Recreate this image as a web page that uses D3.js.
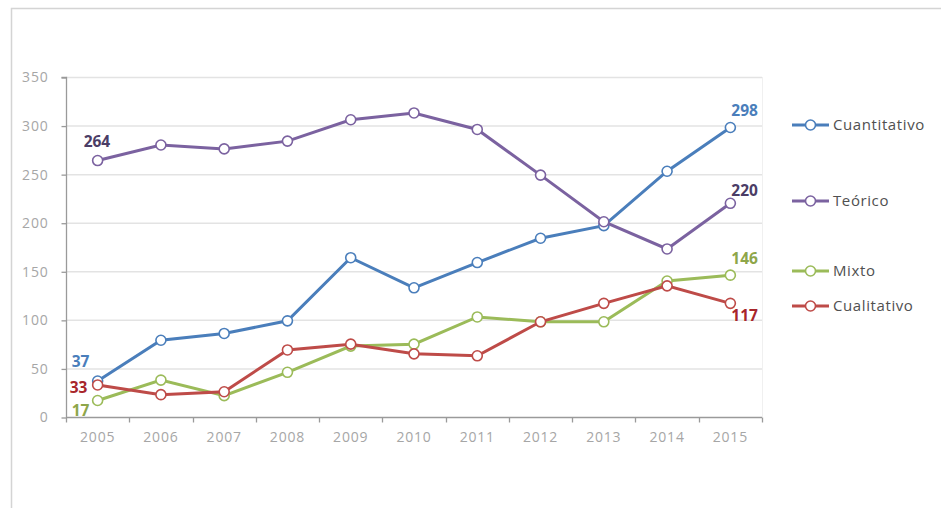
<!DOCTYPE html>
<html>
<head>
<meta charset="utf-8">
<script src="https://cdn.jsdelivr.net/npm/d3@7"></script>
<style>
body { margin: 0; background: #fff; }
svg { display: block; font-family: "Open Sans", "Noto Sans", sans-serif; }
</style>
</head>
<body>
<svg id="chart" width="941" height="508"></svg>
<script>
var years = ["2005", "2006", "2007", "2008", "2009", "2010", "2011", "2012", "2013", "2014", "2015"];
var yTicks = [0, 50, 100, 150, 200, 250, 300, 350];

var cuantitativo = [37, 79, 86, 99, 164, 133, 159, 184, 197, 253, 298];
var teorico = [264, 280, 276, 284, 306, 313, 296, 249, 201, 173, 220];
var mixto = [17, 38, 22, 46, 73, 75, 103, 98, 98, 140, 146];
var cualitativo = [33, 23, 26, 69, 75, 65, 63, 98, 117, 135, 117];

var series = [
    {name: "Cuantitativo", values: cuantitativo, color: "#4a7ebb", labelColor: "#4a7ebb"},
    {name: "Teórico", values: teorico, color: "#7b62a0", labelColor: "#4b3d66"},
    {name: "Mixto", values: mixto, color: "#9bbb59", labelColor: "#8ea64a"},
    {name: "Cualitativo", values: cualitativo, color: "#be4b48", labelColor: "#a8262b"}
];

// end labels: [series index, point index, dx, dy]
var labels = [
    [0, 0, -26, -14], [2, 0, -26, 16], [3, 0, -28, 8], [1, 0, -14, -14],
    [0, 10, 1, -12], [1, 10, 1, -7], [2, 10, 1, -11], [3, 10, 1, 18]
];

var svg = d3.select("#chart");
var plotLeft = 66, plotRight = 762, plotTop = 77, plotBottom = 417;

// outer frame
svg.append("path")
    .attr("d", "M11.5,508 V8.5 H941")
    .attr("fill", "none")
    .attr("stroke", "#d4d4d4")
    .attr("stroke-width", 1.5);

var x = d3.scaleBand().domain(years).range([plotLeft, plotRight]);
var y = d3.scaleLinear().domain([0, 350]).range([plotBottom, plotTop]);

// gridlines
svg.append("g").selectAll("line")
    .data(yTicks.filter(d => d > 0))
    .enter().append("line")
    .attr("x1", plotLeft).attr("x2", plotRight)
    .attr("y1", d => y(d) + 0.5).attr("y2", d => y(d) + 0.5)
    .attr("stroke", "#e3e3e3")
    .attr("stroke-width", 1.5);

svg.append("line")
    .attr("x1", plotRight + 0.5).attr("x2", plotRight + 0.5)
    .attr("y1", plotTop).attr("y2", plotBottom)
    .attr("stroke", "#f0f0f0");

// y axis
var yAxis = svg.append("g")
    .attr("transform", "translate(" + (plotLeft + 0.5) + ",0.5)")
    .call(d3.axisLeft(y).tickValues(yTicks).tickSize(5).tickPadding(13));
yAxis.selectAll("text").attr("fill", "#a6a6a6").style("font-size", "14px")
    .style("letter-spacing", "0.8px").style("font-family", "'Open Sans', sans-serif");
yAxis.selectAll("line, path").attr("stroke", "#9a9a9a").attr("stroke-width", 1.3);
yAxis.select(".domain").attr("d", "M-5," + plotTop + "H0V" + plotBottom);

// x axis
var xAxis = svg.append("g")
    .attr("transform", "translate(0," + (plotBottom + 0.5) + ")")
    .call(d3.axisBottom(x).tickSize(0).tickPadding(15));
xAxis.selectAll("text").attr("fill", "#a6a6a6").style("font-size", "14px")
    .style("letter-spacing", "0.8px").style("font-family", "'Open Sans', sans-serif");
xAxis.select(".domain").attr("d", "M" + plotLeft + ",0H" + plotRight).attr("stroke", "#9a9a9a").attr("stroke-width", 1.3);
xAxis.selectAll(".sep")
    .data(d3.range(years.length + 1))
    .enter().append("line")
    .attr("class", "sep")
    .attr("x1", i => Math.round(plotLeft + i * x.step()) + 0.5)
    .attr("x2", i => Math.round(plotLeft + i * x.step()) + 0.5)
    .attr("y1", 0).attr("y2", 5)
    .attr("stroke", "#9a9a9a").attr("stroke-width", 1.3);

var line = d3.line()
    .x((d, i) => x(years[i]) + x.bandwidth() / 2)
    .y(d => y(d));

series.forEach(function(s) {
    var g = svg.append("g");
    g.append("path")
        .attr("d", line(s.values))
        .attr("fill", "none")
        .attr("stroke", s.color)
        .attr("stroke-width", 3);
    g.selectAll("circle")
        .data(s.values)
        .enter().append("circle")
        .attr("cx", (d, i) => x(years[i]) + x.bandwidth() / 2)
        .attr("cy", d => y(d))
        .attr("r", 5)
        .attr("fill", "#fff")
        .attr("stroke", s.color)
        .attr("stroke-width", 1.6);
});

// value labels
svg.append("g").selectAll("text")
    .data(labels)
    .enter().append("text")
    .attr("x", d => x(years[d[1]]) + x.bandwidth() / 2 + d[2])
    .attr("y", d => y(series[d[0]].values[d[1]]) + d[3])
    .attr("fill", d => series[d[0]].labelColor)
    .style("font-size", "15.5px")
    .style("font-weight", "bold")
    .text(d => series[d[0]].values[d[1]]);

// legend
var legendY = [125, 201, 271, 306];
var legend = svg.append("g").selectAll("g")
    .data(series)
    .enter().append("g")
    .attr("transform", (d, i) => "translate(792," + legendY[i] + ")");
legend.append("line")
    .attr("x1", 0).attr("x2", 37)
    .attr("stroke", d => d.color)
    .attr("stroke-width", 3);
legend.append("circle")
    .attr("cx", 18.5).attr("r", 5)
    .attr("fill", "#fff")
    .attr("stroke", d => d.color)
    .attr("stroke-width", 1.6);
legend.append("text")
    .attr("x", 41).attr("y", 5)
    .attr("fill", "#505050")
    .style("font-size", "15px")
    .style("letter-spacing", "0.6px")
    .text(d => d.name);
</script>
</body>
</html>
